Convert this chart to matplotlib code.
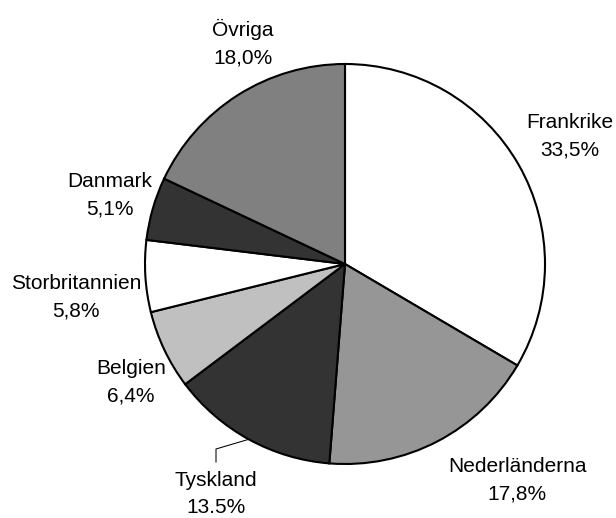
import numpy as np
import matplotlib.pyplot as plt

plt.rcParams['font.family'] = ['Liberation Sans', 'DejaVu Sans']

countries = ['Frankrike', 'Nederländerna', 'Tyskland', 'Belgien',
             'Storbritannien', 'Danmark', 'Övriga']
shares = [33.5, 17.8, 13.5, 6.4, 5.8, 5.1, 18.0]
share_labels = ['33,5%', '17,8%', '13.5%', '6,4%', '5,8%', '5,1%', '18,0%']
colors = ['#ffffff', '#969696', '#333333', '#c0c0c0', '#ffffff', '#333333', '#808080']

# label midpoints in pie-radius units
label_pos = [(1.1225, 0.64), (0.86, -1.08), (-0.645, -1.15), (-1.07, -0.59),
             (-1.345, -0.165), (-1.175, 0.345), (-0.51, 1.1025)]

fig = plt.figure(figsize=(6.16, 5.18), dpi=100)
ax = fig.add_axes([0, 0, 1, 1])

wedges, _ = ax.pie(shares, colors=colors, startangle=90, counterclock=False,
                   radius=1.0, center=(0, 0),
                   wedgeprops=dict(edgecolor='black', linewidth=1.5))

for name, lab, (x, y) in zip(countries, share_labels, label_pos):
    ax.text(x, y, f'{name}\n{lab}', ha='center', va='center',
            fontsize=15, linespacing=1.55)

# leader line for Tyskland
w = wedges[2]
mid = np.deg2rad((w.theta1 + w.theta2) / 2)
ex, ey = np.cos(mid), np.sin(mid)
lx = label_pos[2][0]
ax.plot([lx, lx, ex], [-0.99, -0.925, ey], color='black', lw=0.75)

ax.set_xlim(-1.725, 1.355)
ax.set_ylim(-1.27, 1.32)
ax.set_aspect('equal')
ax.axis('off')

fig.savefig('out.png', dpi=100)
